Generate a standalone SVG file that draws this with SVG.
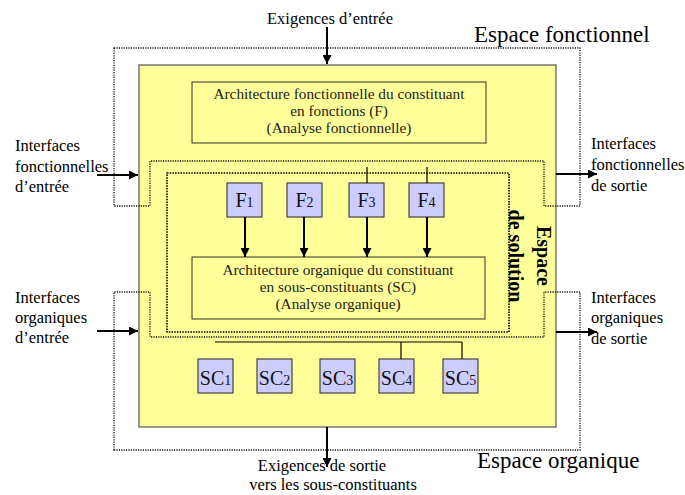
<svg xmlns="http://www.w3.org/2000/svg" width="685" height="495" viewBox="0 0 685 495">
<style>
text{font-family:"Liberation Serif","Times New Roman",serif;fill:#000}
.lbl{font-size:16.5px}
.inner{font-size:15.3px;fill:#222}
.big{font-size:23px}
.sol{font-size:20px;font-weight:bold}
.box{fill:#ffff99;stroke:#333;stroke-width:1}
.fb{fill:#ccccff;stroke:#444;stroke-width:1.2}
.fl{font-size:20px;fill:#111}
.sub{font-size:14px}
.dot{fill:none;stroke:#000;stroke-width:1.6;stroke-dasharray:1.5 1.2}
.dotthin{fill:none;stroke:#111;stroke-width:1.3;stroke-dasharray:1.2 1.2}
.arr{stroke:#000;stroke-width:2;fill:none;marker-end:url(#ah)}
.ln{stroke:#000;stroke-width:1.2;fill:none}
</style>
<defs>
<marker id="ah" viewBox="0 0 10 10" refX="10" refY="5" markerWidth="9" markerHeight="9" markerUnits="userSpaceOnUse" orient="auto">
<path d="M0,0 L10,5 L0,10 Z" fill="#000"/>
</marker>
</defs>
<rect width="685" height="495" fill="#fff"/>

<g id="conteneur">
<rect x="139" y="65" width="417" height="362" fill="#ffff99" stroke="#777" stroke-width="1.5"/>
</g>

<g id="espace-fonctionnel">
<path class="dotthin" d="M114,48 H580 V206 H544 V161 H150 V206 H114 Z"/>
<text class="big" x="474" y="42">Espace fonctionnel</text>
</g>
<g id="espace-organique">
<path class="dotthin" d="M114,450 H580 V292 H544 V337 H150 V292 H114 Z"/>
<text class="big" x="477" y="468">Espace organique</text>
</g>
<g id="espace-solution">
<rect class="dot" x="167" y="173" width="342" height="159"/>
<text class="sol" transform="translate(537,256) rotate(90)" text-anchor="middle">Espace</text>
<text class="sol" transform="translate(509,256) rotate(90)" text-anchor="middle">de solution</text>
</g>

<g id="archi-fonctionnelle">
<rect class="box" x="192" y="82" width="294" height="61"/>
<text class="inner" x="339" y="99" text-anchor="middle">Architecture fonctionnelle du constituant</text>
<text class="inner" x="339" y="116" text-anchor="middle">en fonctions (F)</text>
<text class="inner" x="339" y="133" text-anchor="middle">(Analyse fonctionnelle)</text>
</g>

<g id="archi-organique">
<rect class="box" x="192" y="257" width="293" height="62"/>
<text class="inner" x="338" y="275" text-anchor="middle">Architecture organique du constituant</text>
<text class="inner" x="338" y="292" text-anchor="middle">en sous-constituants (SC)</text>
<text class="inner" x="338" y="309" text-anchor="middle">(Analyse organique)</text>
</g>

<g id="F1"><rect class="fb" x="227" y="183" width="35" height="34"/><text class="fl" x="244.5" y="207" text-anchor="middle">F<tspan class="sub">1</tspan></text></g>
<g id="F2"><rect class="fb" x="287" y="183" width="35" height="34"/><text class="fl" x="304.5" y="207" text-anchor="middle">F<tspan class="sub">2</tspan></text></g>
<g id="F3"><rect class="fb" x="349" y="183" width="35" height="34"/><text class="fl" x="366.5" y="207" text-anchor="middle">F<tspan class="sub">3</tspan></text></g>
<g id="F4"><rect class="fb" x="409" y="183" width="35" height="34"/><text class="fl" x="426.5" y="207" text-anchor="middle">F<tspan class="sub">4</tspan></text></g>

<g id="SC1"><rect class="fb" x="198" y="359" width="35" height="34"/><text class="fl" x="215.5" y="385" text-anchor="middle" font-size="19">SC<tspan class="sub">1</tspan></text></g>
<g id="SC2"><rect class="fb" x="257" y="359" width="35" height="34"/><text class="fl" x="274.5" y="385" text-anchor="middle" font-size="19">SC<tspan class="sub">2</tspan></text></g>
<g id="SC3"><rect class="fb" x="320" y="359" width="35" height="34"/><text class="fl" x="337.5" y="385" text-anchor="middle" font-size="19">SC<tspan class="sub">3</tspan></text></g>
<g id="SC4"><rect class="fb" x="379" y="359" width="35" height="34"/><text class="fl" x="396.5" y="385" text-anchor="middle" font-size="19">SC<tspan class="sub">4</tspan></text></g>
<g id="SC5"><rect class="fb" x="443" y="359" width="35" height="34"/><text class="fl" x="460.5" y="385" text-anchor="middle" font-size="19">SC<tspan class="sub">5</tspan></text></g>

<g id="labels">
<text class="lbl" x="330" y="24" text-anchor="middle">Exigences d’entrée</text>
<text class="lbl" x="322" y="471" text-anchor="middle" font-size="16px">Exigences de sortie</text>
<text class="lbl" x="333" y="489.5" text-anchor="middle" font-size="16px">vers les sous-constituants</text>
<text class="lbl" x="15" y="151">Interfaces</text>
<text class="lbl" x="15" y="172">fonctionnelles</text>
<text class="lbl" x="15" y="192">d’entrée</text>
<text class="lbl" x="15" y="303">Interfaces</text>
<text class="lbl" x="15" y="323">organiques</text>
<text class="lbl" x="15" y="343">d’entrée</text>
<text class="lbl" x="591" y="149">Interfaces</text>
<text class="lbl" x="591" y="170">fonctionnelles</text>
<text class="lbl" x="591" y="191">de sortie</text>
<text class="lbl" x="591" y="303">Interfaces</text>
<text class="lbl" x="591" y="323">organiques</text>
<text class="lbl" x="591" y="344">de sortie</text>
</g>

<g id="connecteurs">
<line class="arr" x1="327" y1="27" x2="327" y2="64"/>
<line class="arr" x1="327" y1="427" x2="327" y2="467"/>
<line class="arr" x1="97" y1="175" x2="138" y2="175"/>
<line class="arr" x1="97" y1="331" x2="138" y2="331"/>
<line class="arr" x1="556" y1="174" x2="597" y2="174"/>
<line class="arr" x1="556" y1="332" x2="597" y2="332"/>
<line class="arr" x1="245" y1="217" x2="245" y2="257"/>
<line class="arr" x1="304" y1="217" x2="304" y2="257"/>
<line class="arr" x1="367" y1="217" x2="367" y2="257"/>
<line class="arr" x1="427" y1="217" x2="427" y2="257"/>
<path class="ln" d="M367,167 V183 M427,167 V183"/>
<path class="ln" d="M215,342 H462 M401,342 V359 M462,342 V359"/>
</g>
</svg>
